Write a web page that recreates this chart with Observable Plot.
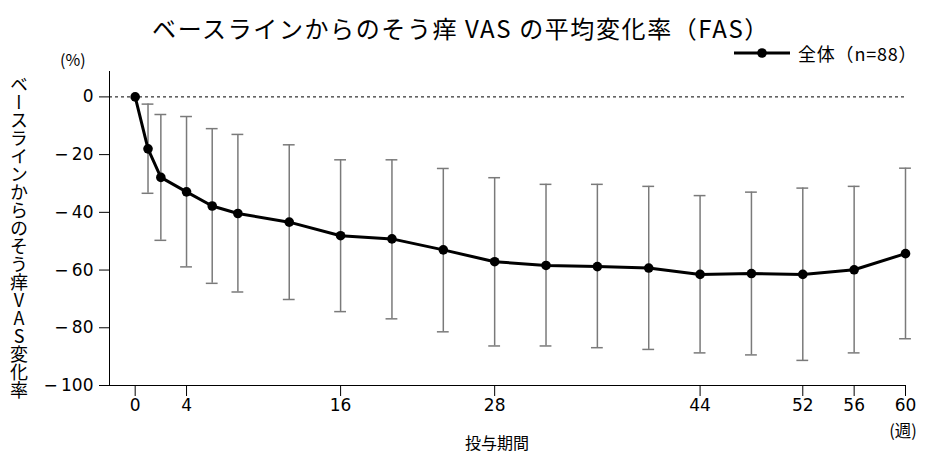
<!DOCTYPE html>
<html><head><meta charset="utf-8">
<script src="https://cdn.jsdelivr.net/npm/d3@7"></script>
<script src="https://cdn.jsdelivr.net/npm/@observablehq/plot@0.6"></script>
<style>
body{margin:0;background:#fff;}
#wrap{position:relative;width:927px;height:455px;font-family:"Noto Sans CJK JP",sans-serif;color:#000;overflow:hidden;}
.abs{position:absolute;white-space:nowrap;}
#wrap svg.plot{position:absolute;left:0;top:0;font-size:17px !important;font-family:"DejaVu Sans",sans-serif !important;}
#wrap svg.plot text{font-size:17px;}
</style></head><body><div id="wrap"></div>
<script>
const weeks = [0,1,2,4,6,8,12,16,20,24,28,32,36,40,44,48,52,56,60];
const meanChange = [0,-18.0,-27.9,-32.9,-37.8,-40.4,-43.4,-48.1,-49.2,-53.0,-57.1,-58.4,-58.8,-59.3,-61.5,-61.2,-61.5,-59.9,-54.3];
const upperSD = [null,-2.5,-6.1,-6.8,-11.0,-13.0,-16.6,-21.8,-21.8,-24.8,-28.0,-30.3,-30.3,-31.0,-34.2,-33.0,-31.6,-31.0,-24.7];
const lowerSD = [null,-33.4,-49.7,-58.9,-64.6,-67.6,-70.2,-74.4,-76.9,-81.4,-86.3,-86.3,-86.9,-87.5,-88.7,-89.4,-91.3,-88.7,-83.8];
const xTicks = [0,4,16,28,44,52,56,60];
const yTicks = [0,-20,-40,-60,-80,-100];
const titleText = "ベースラインからのそう痒 VAS の平均変化率（FAS）";
const legendText = "全体（n=88）";
const yLabel = "ベースラインからのそう痒VAS変化率";
const xLabel = "投与期間";
const xUnit = "(週)";
const yUnit = "(%)";

const data = weeks.map((w,i)=>({week:w, mean:meanChange[i], hi:upperSD[i], lo:lowerSD[i]}));
const bars = data.filter(d=>d.hi!=null);
const capHalf = 0.46;
const barColor = "#7a7a7a";

const plot = Plot.plot({
  width:927, height:455,
  marginLeft:109, marginRight:22, marginTop:71, marginBottom:70,
  style:{fontFamily:'"DejaVu Sans", sans-serif', fontSize:"17px", color:"#000", background:"transparent", overflow:"visible"},
  x:{domain:[-2.0,60], ticks:xTicks, tickSize:11, tickPadding:2, label:null, line:true, tickFormat:d=>String(d)},
  y:{domain:[-100,8.8], ticks:yTicks, tickSize:10, tickPadding:6, label:null, line:true, tickFormat:d=> d===0?"0":"\u2212\u2009"+Math.abs(d)},
  marks:[
    Plot.ruleY([0],{stroke:"#000", strokeDasharray:"3,3", strokeWidth:1}),
    Plot.ruleX(bars,{x:"week", y1:"lo", y2:"hi", stroke:barColor, strokeWidth:1.5}),
    Plot.ruleY(bars,{y:"hi", x1:d=>d.week-capHalf, x2:d=>d.week+capHalf, stroke:barColor, strokeWidth:1.5}),
    Plot.ruleY(bars,{y:"lo", x1:d=>d.week-capHalf, x2:d=>d.week+capHalf, stroke:barColor, strokeWidth:1.5}),
    Plot.line(data,{x:"week", y:"mean", stroke:"#000", strokeWidth:3}),
    Plot.dot(data,{x:"week", y:"mean", r:4.8, fill:"#000"})
  ]
});
plot.classList.add("plot");
const wrap = document.getElementById("wrap");
wrap.appendChild(plot);

function addText(txt, css){
  const d = document.createElement("div");
  d.className = "abs";
  d.textContent = txt;
  Object.assign(d.style, css);
  wrap.appendChild(d);
  return d;
}
addText(titleText,{left:"461px", top:"16px", transform:"translateX(-50%)", fontSize:"24px", lineHeight:"24px", letterSpacing:"1.6px"});
addText(yUnit,{left:"60px", top:"50px", fontSize:"16px", lineHeight:"18px"});
addText(legendText,{left:"798px", top:"43px", fontSize:"18px", lineHeight:"20px", letterSpacing:"0.8px"});
addText(yLabel,{left:"9px", top:"75px", fontSize:"18px", lineHeight:"19px", writingMode:"vertical-rl", textOrientation:"upright"});
addText(xUnit,{left:"903px", top:"421px", transform:"translateX(-50%)", fontSize:"16.5px", lineHeight:"18px"});
addText(xLabel,{left:"497px", top:"434px", transform:"translateX(-50%)", fontSize:"16px", lineHeight:"17px"});

// legend swatch
const ns = "http://www.w3.org/2000/svg";
const sw = document.createElementNS(ns,"svg");
sw.setAttribute("width","60"); sw.setAttribute("height","14");
sw.style.position="absolute"; sw.style.left="733px"; sw.style.top="46px";
sw.innerHTML = '<line x1="1" x2="57" y1="7" y2="7" stroke="#000" stroke-width="3"/><circle cx="29" cy="7" r="4.8" fill="#000"/>';
wrap.appendChild(sw);
</script>
</body></html>
